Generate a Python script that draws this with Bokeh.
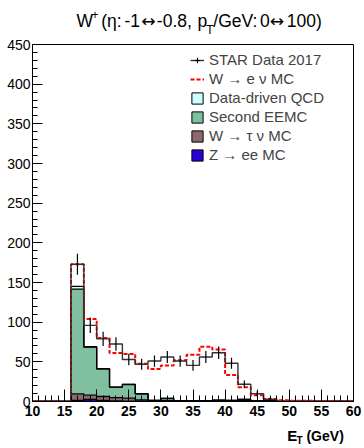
import numpy as np
from bokeh.plotting import figure
from bokeh.layouts import column
from bokeh.models import (ColumnDataSource, Range1d, SingleIntervalTicker,
                          Legend, LegendItem)
from bokeh.core.properties import value
from bokeh.embed import file_html
from bokeh.resources import INLINE

# ---------------- data (2 GeV bins from 10 to 60 GeV) ----------------
bin_edges = [10, 12, 14, 16, 18, 20, 22, 24, 26, 28, 30, 32, 34, 36, 38, 40,
             42, 44, 46, 48, 50, 52, 54, 56, 58, 60]

data_counts = [0, 0, 0, 173, 96, 79, 72.5, 53, 47, 51, 56, 51, 45.5, 56, 61.5,
               48.3, 21.8, 9.7, 3, 0, 0, 0, 0, 0, 0]
data_errors = [0, 0, 0, 13.2, 9.8, 8.9, 8.5, 7.3, 6.9, 7.1, 7.5, 7.1, 6.7, 7.5,
               7.8, 7.0, 4.7, 3.1, 1.7, 0, 0, 0, 0, 0, 0]

z_ee = [0, 0, 0, 1.5, 2.5, 1.5, 0.8, 0.5, 0.3, 0.2, 0.2, 0.2, 0.2, 0.3, 0.8,
        0.8, 0.8, 0.3, 0.2, 0, 0, 0, 0, 0, 0]
w_tau = [0, 0, 0, 8.2, 5.5, 4.8, 4.2, 3.7, 1.8, 0.8, 1.2, 0.5, 0.4, 0.4, 0.3,
         0.3, 0.2, 0.2, 0.1, 0, 0, 0, 0, 0, 0]
second_eemc = [0, 0, 0, 132, 60.5, 34.7, 13, 17.2, 7.6, 0.4, 2.5, 0.3, 0.3, 0.3,
               0.5, 0.4, 1.5, 0.2, 1.5, 0, 0, 0, 0, 0, 0]
qcd = [0, 0, 0, 3.5, 0.5, 0.3, 0.2, 0.2, 0.1, 0.1, 0.1, 0, 0, 0, 0, 0, 0, 0, 0,
       0, 0, 0, 0, 0, 0]
w_enu = [0, 0, 0, 27.8, 35, 38.7, 42.8, 38.4, 37.7, 39.5, 41.5, 51, 58.1, 68,
         63.9, 32, 15.5, 7.3, 1.2, 1.5, 1, 1, 0.5, 0.5, 0.3]

legend_labels = ["STAR Data 2017", "W \u2192 e \u03bd MC", "Data-driven QCD",
                 "Second EEMC", "W \u2192 \u03c4 \u03bd MC", "Z \u2192 ee MC"]

# ---------------- styles ----------------
C_QCD = "#ccffff"
C_EEMC = "#80c09f"
C_TAU = "#8c6870"
C_ZEE = "#2a00d8"
FONT = "Liberation Sans"
ARROW_FONT = "DejaVu Sans"
W = 364
TITLE_H = 36
BOTTOM_H = 24
MAIN_H = 448 - TITLE_H - BOTTOM_H
TS = "17.5px"


def text_strip(height):
    f = figure(width=W, height=height, x_range=Range1d(0, W), y_range=Range1d(height, 0),
               output_backend="svg", toolbar_location=None, x_axis_type=None,
               y_axis_type=None, min_border=0)
    f.outline_line_color = None
    f.xgrid.visible = False
    f.ygrid.visible = False
    return f


def txt(f, s, x, y, size, align="left", style="normal", font=FONT):
    f.text(x=[x], y=[y], text=[s], text_font=value(font), text_font_size=value(size),
           text_align=align, text_baseline="middle", text_font_style=style,
           text_color="black")


# ---------------- title strip (rich text in pieces) ----------------
top = text_strip(TITLE_H)
txt(top, "W", 50, 20, TS)
txt(top, "+", 67, 14, "12px")
txt(top, "(\u03b7:", 78, 20, TS)
txt(top, "-1", 122, 20, TS, align="right")
txt(top, "\u2194", 131.5, 20, "17px", align="center", font=ARROW_FONT)
txt(top, "-0.8,", 141, 20, TS)
txt(top, "p", 187, 20, TS)
txt(top, "T", 197, 29, "12px")
txt(top, "/GeV:", 205, 20, TS)
txt(top, "0", 258, 20, TS)
txt(top, "\u2194", 277, 20, "17px", align="center", font=ARROW_FONT)
txt(top, "100)", 328, 20, TS, align="right")

# ---------------- main plot ----------------
p = figure(width=W, height=MAIN_H, x_range=Range1d(10, 60), y_range=Range1d(0, 450),
           output_backend="svg", toolbar_location=None,
           min_border_left=32, min_border_right=11, min_border_top=8,
           min_border_bottom=23)
p.xgrid.visible = False
p.ygrid.visible = False
p.outline_line_color = "black"
p.outline_line_width = 1
p.background_fill_color = "white"
p.border_fill_color = "white"

p.xaxis.ticker = SingleIntervalTicker(interval=5, num_minor_ticks=5)
p.yaxis.ticker = SingleIntervalTicker(interval=50, num_minor_ticks=5)
for ax in (p.xaxis, p.yaxis):
    ax.axis_line_color = "black"
    ax.major_tick_line_color = "black"
    ax.minor_tick_line_color = "black"
    ax.major_tick_out = 0
    ax.minor_tick_out = 0
    ax.major_label_text_font = FONT
    ax.major_label_text_color = "black"
p.xaxis.major_tick_in = 12
p.xaxis.minor_tick_in = 6
p.yaxis.major_tick_in = 10
p.yaxis.minor_tick_in = 5
p.xaxis.major_label_text_font_size = "14px"
p.xaxis.major_label_text_font_style = "bold"
p.xaxis.major_label_standoff = 4
p.yaxis.major_label_text_font_size = "14px"
p.yaxis.major_label_standoff = 2

# stack
edges = np.array(bin_edges, dtype=float)
layers = [z_ee, w_tau, second_eemc, qcd]
colors = [C_ZEE, C_TAU, C_EEMC, C_QCD]
bottom = np.zeros(len(z_ee))
tops = []
for vals, col in zip(layers, colors):
    t = bottom + np.array(vals, dtype=float)
    p.varea_step(x=edges, y1=np.append(bottom, bottom[-1]), y2=np.append(t, t[-1]),
                 step_mode="after", fill_color=col)
    tops.append(t)
    bottom = t
for t in tops:
    p.step(x=edges, y=np.append(t, 0), mode="after", line_color="black", line_width=1.3)

total = bottom + np.array(w_enu, dtype=float)
mc_line = p.step(x=edges, y=np.append(total, 0), mode="after", line_color="#ff0000",
                 line_width=2, line_dash="4 2")

# data
dc = np.array(data_counts, dtype=float)
de = np.array(data_errors, dtype=float)
data_line = p.step(x=edges, y=np.append(dc, 0), mode="after", line_color="#333333",
                   line_width=1.4)
centers = (edges[:-1] + edges[1:]) / 2
mask = dc > 0
err_src = ColumnDataSource(dict(x=centers[mask], lo=(dc - de)[mask], hi=(dc + de)[mask]))
p.segment(x0="x", y0="lo", x1="x", y1="hi", source=err_src, line_color="black",
          line_width=1.2)

# legend-only glyphs (not drawn in the plot: NaN positions)
nan = [float("nan")]
cross = p.scatter(x=nan, y=nan, marker="cross", size=10, line_color="black",
                  line_width=1.2)
boxes = []
for col in (C_QCD, C_EEMC, C_TAU, C_ZEE):
    boxes.append(p.quad(left=nan, right=nan, top=nan, bottom=nan, fill_color=col,
                        line_color="black", line_width=1))

legend = Legend(items=[
    LegendItem(label=legend_labels[0], renderers=[data_line, cross]),
    LegendItem(label=legend_labels[1], renderers=[mc_line]),
    LegendItem(label=legend_labels[2], renderers=[boxes[0]]),
    LegendItem(label=legend_labels[3], renderers=[boxes[1]]),
    LegendItem(label=legend_labels[4], renderers=[boxes[2]]),
    LegendItem(label=legend_labels[5], renderers=[boxes[3]]),
], location=(158, 237), glyph_width=14, glyph_height=14, label_height=19, spacing=0,
    padding=0, margin=0, label_standoff=5, label_text_font=FONT,
    label_text_font_size="15px", border_line_alpha=0, background_fill_alpha=0)
p.add_layout(legend)

# ---------------- axis title strip ----------------
bot = text_strip(BOTTOM_H)
txt(bot, "E", 289, 11, "15px", style="bold")
txt(bot, "T", 299.5, 16, "10px", style="bold")
txt(bot, "(GeV)", 353, 11, "14px", align="right", style="bold")

layout = column(top, p, bot, spacing=0)
open("out.html", "w").write(file_html(layout, INLINE))
